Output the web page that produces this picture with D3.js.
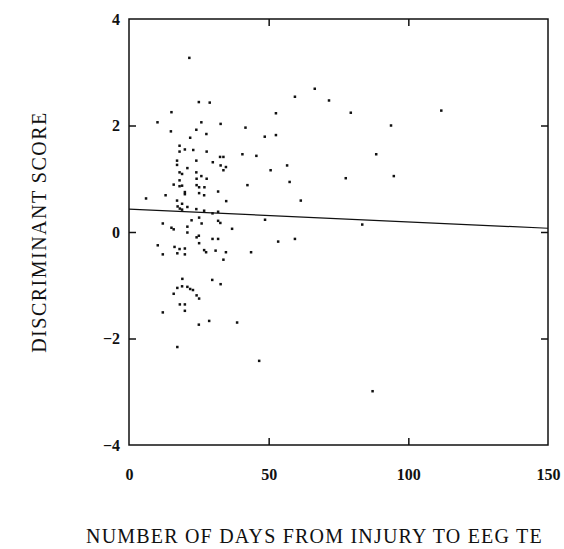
<!DOCTYPE html>
<html>

<head>
	<meta http-equiv="Content-Type" content="text/html;charset=utf-8">
	<title>Discriminant score vs days</title>
	<script type="text/javascript" src="https://d3js.org/d3.v7.min.js"></script>

	<style type="text/css">
		body {
			margin: 0;
			background-color: white;
		}

		.chart {
			display: block;
		}

		.axis text {
			font-family: "Liberation Serif", "DejaVu Serif", serif;
			font-size: 16px;
			font-weight: bold;
			fill: #111;
		}

		.axis .domain {
			stroke: none;
		}

		.axis .tick line {
			stroke: #111;
			stroke-width: 1.5;
		}

		.frame {
			fill: none;
			stroke: #111;
			stroke-width: 1.5;
		}

		.title {
			font-family: "Liberation Serif", "DejaVu Serif", serif;
			font-size: 20px;
			letter-spacing: 1.5px;
			fill: #111;
		}

		.dot {
			fill: #111;
		}

		.fit {
			stroke: #111;
			stroke-width: 1.2;
			fill: none;
		}
	</style>
</head>

<body>

	<div id="plot"></div>

	<script type="text/javascript">
		//data
		var days = [
			21.6, 6.1, 10.2, 15.2, 15.0, 25.0, 28.9, 25.9, 24.1, 27.7,
			21.9, 32.8, 41.7, 48.6, 52.6, 52.6, 59.4, 66.5, 71.6, 79.4,
			18.1, 18.1, 20.0, 23.0, 27.8, 32.6, 33.8, 40.6, 45.6, 17.2,
			17.2, 24.1, 30.0, 32.8, 34.7, 33.8, 20.9, 18.1, 19.0, 24.1,
			25.9, 24.2, 27.8, 50.7, 56.6, 57.5, 77.6, 16.0, 18.1, 18.1,
			19.0, 24.2, 25.1, 27.0, 20.0, 20.0, 25.1, 26.9, 31.9, 42.4,
			13.1, 17.2, 19.0, 17.4, 20.9, 34.8, 61.5, 18.2, 19.0, 24.1,
			26.9, 29.9, 31.9, 25.1, 22.4, 26.0, 12.1, 15.2, 16.0, 20.9,
			31.9, 32.7, 36.9, 48.7, 83.5, 20.9, 25.0, 24.2, 29.9, 31.9,
			53.4, 59.4, 25.1, 10.3, 16.3, 18.1, 20.0, 26.9, 27.6, 31.0,
			34.7, 43.7, 12.1, 17.3, 20.0, 33.8, 19.1, 29.8, 32.8, 17.3,
			19.0, 20.9, 21.9, 22.9, 16.0, 24.2, 25.1, 18.2, 20.0, 20.0,
			12.1, 28.7, 25.0, 38.7, 17.3, 46.6, 87.2, 93.8, 111.8, 88.5,
			94.8
		];
		var scores = [
			3.27, 0.63, 2.06, 2.25, 1.89, 2.44, 2.43, 2.06, 1.92, 1.84,
			1.77, 2.03, 1.96, 1.79, 1.82, 2.23, 2.54, 2.69, 2.47, 2.24,
			1.62, 1.51, 1.55, 1.54, 1.51, 1.41, 1.41, 1.46, 1.43, 1.34,
			1.26, 1.34, 1.31, 1.25, 1.22, 1.16, 1.20, 1.12, 1.09, 1.12,
			1.05, 1.00, 1.00, 1.16, 1.25, 0.94, 1.01, 0.89, 0.97, 0.86,
			0.87, 0.88, 0.84, 0.84, 0.75, 0.71, 0.73, 0.69, 0.76, 0.88,
			0.69, 0.59, 0.53, 0.48, 0.47, 0.58, 0.59, 0.44, 0.42, 0.43,
			0.40, 0.35, 0.38, 0.27, 0.22, 0.16, 0.16, 0.08, 0.05, 0.10,
			0.21, 0.17, 0.06, 0.23, 0.14, -0.01, -0.07, -0.10, -0.13, -0.13,
			-0.18, -0.13, -0.21, -0.25, -0.28, -0.32, -0.31, -0.34, -0.38, -0.35,
			-0.38, -0.38, -0.42, -0.40, -0.42, -0.52, -0.88, -0.90, -0.98, -1.05,
			-1.02, -1.03, -1.07, -1.09, -1.16, -1.19, -1.25, -1.36, -1.36, -1.48,
			-1.51, -1.67, -1.74, -1.70, -2.16, -2.42, -2.99, 2.00, 2.28, 1.46,
			1.05
		];

		// fitted line end points
		var fitDays = [0, 150];
		var fitScores = [0.43, 0.07];

		var xTicks = [0, 50, 100, 150];
		var yTicks = [-4, -2, 0, 2, 4];

		var xTitle = "NUMBER OF DAYS FROM INJURY TO EEG TE";
		var yTitle = "DISCRIMINANT SCORE";

		var W = 564, H = 549,
			m = [19, 16, 104, 129]; //top right bottom left

		var x = d3.scaleLinear()
			.domain([0, 150])
			.range([m[3], W - m[1]]);
		var y = d3.scaleLinear()
			.domain([-4, 4])
			.range([H - m[2], m[0]]);

		var chart = d3.select("#plot")
			.append("svg")
			.attr("width", W)
			.attr("height", H)
			.attr("class", "chart");

		// bottom axis with labels, ticks pointing up into the plot
		chart.append("g")
			.attr("class", "axis")
			.attr("transform", "translate(0," + y(-4) + ")")
			.call(d3.axisBottom(x).tickValues(xTicks).tickSize(-7).tickPadding(24))
			.selectAll(".tick line")
			.filter(function(d) { return d == 0 || d == 150; })
			.remove();

		// top axis, ticks only
		chart.append("g")
			.attr("class", "axis")
			.attr("transform", "translate(0," + y(4) + ")")
			.call(d3.axisTop(x).tickValues([50, 100]).tickSize(-7).tickFormat(""));

		// left axis with labels
		chart.append("g")
			.attr("class", "axis")
			.attr("transform", "translate(" + x(0) + ",0)")
			.call(d3.axisLeft(y).tickValues(yTicks).tickSize(-7).tickPadding(9))
			.selectAll(".tick line")
			.filter(function(d) { return d == 4 || d == -4; })
			.remove();

		// right axis, ticks only
		chart.append("g")
			.attr("class", "axis")
			.attr("transform", "translate(" + x(150) + ",0)")
			.call(d3.axisRight(y).tickValues([-2, 0, 2]).tickSize(-7).tickFormat(""));

		chart.append("rect")
			.attr("class", "frame")
			.attr("x", x(0))
			.attr("y", y(4))
			.attr("width", x(150) - x(0))
			.attr("height", y(-4) - y(4));

		var line = d3.line()
			.x(function(d) { return x(d[0]); })
			.y(function(d) { return y(d[1]); });
		chart.append("path")
			.attr("class", "fit")
			.attr("d", line(d3.zip(fitDays, fitScores)));

		chart.append("g")
			.selectAll("rect")
			.data(d3.zip(days, scores))
			.enter().append("rect")
			.attr("class", "dot")
			.attr("x", function(d) { return x(d[0]) - 1.25; })
			.attr("y", function(d) { return y(d[1]) - 1.25; })
			.attr("width", 2.5)
			.attr("height", 2.5);

		chart.append("text")
			.attr("class", "title")
			.attr("transform", "translate(46," + ((y(4) + y(-4)) / 2) + ") rotate(-90)")
			.attr("text-anchor", "middle")
			.text(yTitle);

		chart.append("text")
			.attr("class", "title")
			.attr("x", 86)
			.attr("y", 543)
			.style("letter-spacing", "1.2px")
			.text(xTitle);
	</script>
</body>

</html>
